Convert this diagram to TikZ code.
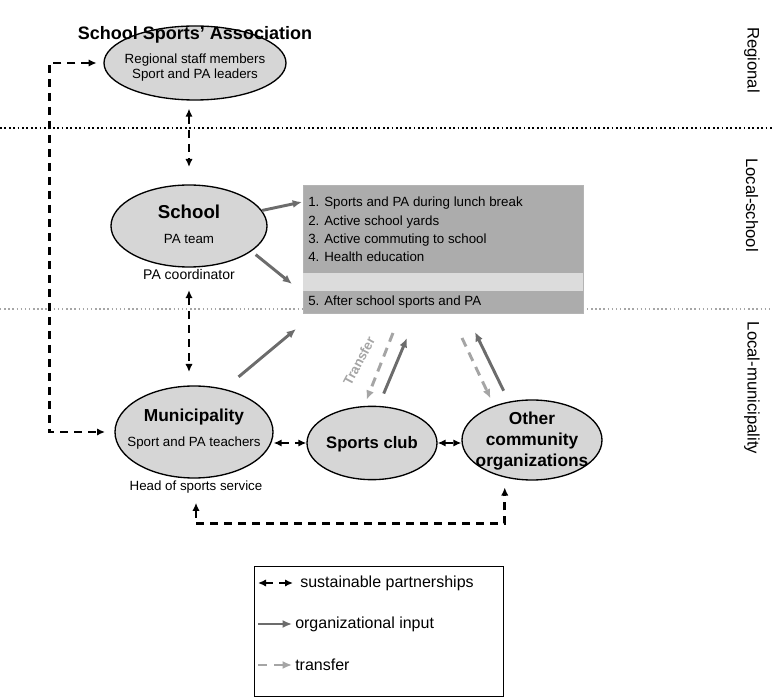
\documentclass[tikz,border=0pt]{standalone}
\usepackage{fontspec}
\setmainfont{Liberation Sans}
\usetikzlibrary{shapes.geometric,arrows.meta}

\definecolor{ovalgray}{RGB}{214,214,214}
\definecolor{boxgray}{RGB}{172,172,172}
\definecolor{bandgray}{RGB}{220,220,220}
\definecolor{inputgray}{RGB}{108,108,108}
\definecolor{transfergray}{RGB}{165,165,165}

\begin{document}
\begin{tikzpicture}[
    x=0.75pt, y=-0.75pt,
    oval/.style={ellipse, draw, line width=1pt, fill=ovalgray, inner sep=0pt},
    bigname/.style={font=\bfseries\fontsize{13}{15}\selectfont, inner sep=1pt},
    small/.style={font=\fontsize{10}{12}\selectfont, inner sep=1pt},
    acttext/.style={anchor=west, font=\fontsize{10}{12}\selectfont, inner sep=0pt},
    partner/.style={line width=2pt, dash pattern=on 6pt off 4.5pt, {Latex[length=6pt,width=5.5pt]}-{Latex[length=6pt,width=5.5pt]}},
    input/.style={draw=inputgray, line width=2.2pt, -{Latex[length=7pt,width=6pt]}},
    transfer/.style={draw=transfergray, line width=2.2pt, dash pattern=on 7pt off 5pt, -{Latex[length=7pt,width=6pt]}},
    level/.style={rotate=-90, font=\fontsize{12.5}{15}\selectfont},
    legtext/.style={anchor=west, font=\fontsize{12}{14}\selectfont, inner sep=0pt}
]
\useasboundingbox (0,0) rectangle (772,698);

% Ebenen
\draw[line width=1.3pt, dotted] (0,128) -- (772,128);
\draw[line width=1.1pt, dotted, gray!70] (0,309) -- (772,309);
\node[level] (lvreg) at (752,60) {Regional};
\node[level] (lvschool) at (752,205) {Local-school};
\node[level] (lvmuni) at (752,388) {Local-municipality};

% Regionale Ebene
\node[oval, minimum width=136.5pt, minimum height=55.5pt] at (195,63) (ssa) {};
\node[font=\bfseries\fontsize{13.5}{15}\selectfont] at (195,35) (ssatitle) {School Sports' Association};
\node[small] at (195,60) (ssa1) {Regional staff members};
\node[small] at (195,75) (ssa2) {Sport and PA leaders};

% Schule
\node[oval, minimum width=117pt, minimum height=61.5pt] at (189,226) (school) {};
\node[bigname, font=\bfseries\fontsize{14}{16}\selectfont] at (189,212) (schoolname) {School};
\node[small] at (189,239) (schoolteam) {PA team};
\node[small, font=\fontsize{10.5}{12}\selectfont] at (189,274) (coord) {PA coordinator};

% Massnahmen
\node[draw=boxgray!90, fill=boxgray, minimum width=210pt, minimum height=96pt, inner sep=0pt, anchor=north west] at (303,185) (acts) {};
\fill[bandgray] (303,273) rectangle (583,291);
\node[acttext] at (308,203) (act1) {1. Sports and PA during lunch break};
\node[acttext] at (308,222) (act2) {2. Active school yards};
\node[acttext] at (308,240) (act3) {3. Active commuting to school};
\node[acttext] at (308,257) (act4) {4. Health education};
\node[acttext] at (308,302) (act5) {5. After school sports and PA};

% Kommune
\node[oval, minimum width=118.5pt, minimum height=69pt] at (194,432) (muni) {};
\node[bigname] at (194,417) (muniname) {Municipality};
\node[small] at (194,443) (muniteach) {Sport and PA teachers};
\node[small] at (196,487) (head) {Head of sports service};
\node[oval, minimum width=97.5pt, minimum height=55pt] at (372,443) (club) {};
\node[font=\bfseries\fontsize{12.5}{14}\selectfont] at (372,444) (clubname) {Sports club};
\node[oval, minimum width=105pt, minimum height=60pt] at (532,440) (other) {};
\node[font=\bfseries\fontsize{13}{15.5}\selectfont, align=center] at (532,441) (othername) {Other\\community\\organizations};

% Eintrittspunkte am Kasten
\coordinate (inA) at (302,202);
\coordinate (inB) at (292,284);
\coordinate (inC) at (296,329);
\coordinate (inD) at (407,338);
\coordinate (outD) at (393,333);
\coordinate (inE) at (475,332);
\coordinate (outE) at (462,338);

% Partnerschaften
\draw[partner, shorten <=6pt, shorten >=13pt] (ssa.south -| school.north) -- (school.north);
\draw[partner, shorten <=7pt, shorten >=10pt] (coord.south) -- (coord.south |- muni.north);
\draw[partner, shorten <=5pt, shorten >=7pt] (ssa.west) -- ++(-54,0) |- (muni.west);
\draw[partner] (club.west -| muni.east) -- (club.west);
\draw[partner] (club.east) -- (club.east -| other.west);
\draw[partner, shorten <=6pt, shorten >=7.5pt] (head.south) -- ++(0,29) -| (other.-126);

% Organisatorischer Input
\draw[input] (school.12) -- (inA);
\draw[input, shorten <=4pt] (school.-22) -- (inB);
\draw[input, shorten <=14pt] (muni.55) -- (inC);
\draw[input, shorten <=10pt] (club.80) -- (inD);
\draw[input, shorten <=9pt] (other.121) -- (inE);

% Transfer
\draw[transfer, shorten >=5pt] (outD) -- (club.102);
\draw[transfer, shorten >=6pt] (outE) -- (other.138);
\node[rotate=62, text=transfergray, font=\bfseries\fontsize{10}{12}\selectfont] at (359,361) (trlabel) {Transfer};

% Legende
\node[draw, line width=1pt, minimum width=186.75pt, minimum height=97.5pt, inner sep=0pt, anchor=north west] at (254,566) (legend) {};
\node[legtext] at (300,583) (leg1) {sustainable partnerships};
\node[legtext] at (295,624) (leg2) {organizational input};
\node[legtext] at (295,665) (leg3) {transfer};
\coordinate (s1a) at (258,583);
\coordinate (s1b) at (293,583);
\coordinate (s2a) at (258,624);
\coordinate (s2b) at (292,624);
\coordinate (s3a) at (258,665);
\coordinate (s3b) at (292,665);
\draw[partner] (s1a) -- (s1b);
\draw[input] (s2a) -- (s2b);
\draw[transfer] (s3a) -- (s3b);
\end{tikzpicture}
\end{document}
